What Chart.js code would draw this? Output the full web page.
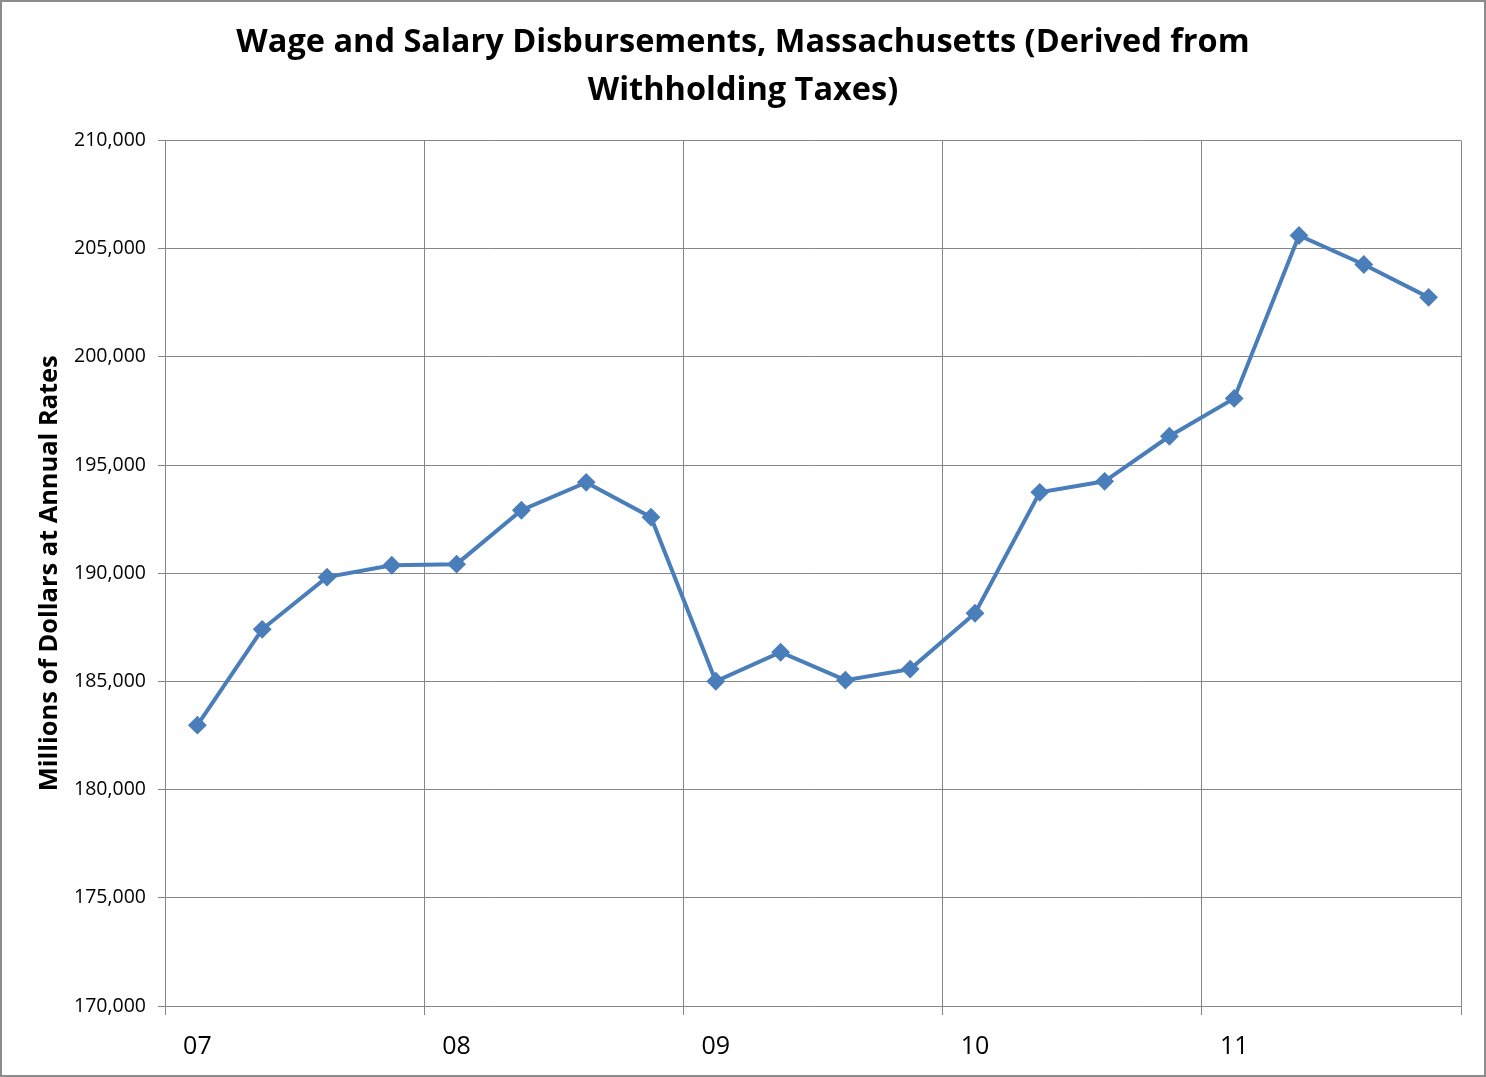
<!DOCTYPE html>
<html>
<head>
<meta charset="utf-8">
<script src="https://cdn.jsdelivr.net/npm/chart.js@4/dist/chart.umd.min.js"></script>
<style>
  html, body { margin: 0; padding: 0; background: #fff; }
  #wrap { position: relative; width: 1486px; height: 1077px; }
  #c { position: absolute; left: 0; top: 0; }
  #frame { position: absolute; left: 0; top: 0; width: 1486px; height: 1077px; box-sizing: border-box; border: 2px solid #8c8c8c; pointer-events: none; }
</style>
</head>
<body>
<div id="wrap">
  <canvas id="c" width="1486" height="1077"></canvas>
  <div id="frame"></div>
</div>
<script>
const titleLines = ['Wage and Salary Disbursements, Massachusetts (Derived from', 'Withholding Taxes)'];
const yAxisTitle = 'Millions of Dollars at Annual Rates';
const quarters = [
  '2007 Q1','2007 Q2','2007 Q3','2007 Q4',
  '2008 Q1','2008 Q2','2008 Q3','2008 Q4',
  '2009 Q1','2009 Q2','2009 Q3','2009 Q4',
  '2010 Q1','2010 Q2','2010 Q3','2010 Q4',
  '2011 Q1','2011 Q2','2011 Q3','2011 Q4'
];
const yearLabels = ['07','08','09','10','11'];
const wages = [
  182980, 187410, 189820, 190370,
  190420, 192910, 194200, 192590,
  185010, 186350, 185060, 185570,
  188150, 193740, 194250, 196330,
  198080, 205610, 204270, 202750
];
const yMin = 170000, yMax = 210000, yStep = 5000;

const FONT = "'Open Sans', 'DejaVu Sans', sans-serif";
const GRID = '#868686';
const LINE = '#4a7ebb';

new Chart(document.getElementById('c'), {
  type: 'line',
  data: {
    labels: quarters,
    datasets: [{
      data: wages,
      borderColor: LINE,
      backgroundColor: LINE,
      borderWidth: 4,
      pointStyle: 'rectRot',
      pointRadius: 8,
      pointBorderWidth: 2,
      pointBorderColor: LINE,
      pointBackgroundColor: LINE,
      tension: 0,
      fill: false
    }]
  },
  options: {
    responsive: false,
    animation: false,
    layout: { padding: { left: 25, right: 25, top: 0, bottom: 0 } },
    plugins: {
      legend: { display: false },
      tooltip: { enabled: false },
      title: {
        display: true,
        text: titleLines,
        color: '#000',
        font: { family: FONT, size: 32.5, weight: 'bold', lineHeight: 1.5 },
        padding: { top: 18, bottom: 25 }
      }
    },
    scales: {
      x: {
        type: 'category',
        offset: true,
        grid: {
          offset: true,
          drawOnChartArea: true,
          tickLength: 9,
          lineWidth: 1,
          color: (ctx) => (ctx.index === undefined || ctx.index % 4 === 0) ? GRID : 'rgba(0,0,0,0)'
        },
        border: { display: true, color: GRID, width: 1 },
        ticks: {
          autoSkip: false,
          maxRotation: 0,
          minRotation: 0,
          padding: 17,
          color: '#000',
          font: { family: FONT, size: 25 },
          callback: function (value, index) {
            return index % 4 === 0 ? yearLabels[index / 4] : '';
          }
        },
        afterFit: (scale) => { scale.height = 1077 - 1006; }
      },
      y: {
        min: yMin,
        max: yMax,
        grid: { color: GRID, lineWidth: 1, tickLength: 7 },
        border: { display: true, color: GRID, width: 1 },
        ticks: {
          stepSize: yStep,
          padding: 12,
          color: '#000',
          font: { family: FONT, size: 19.5 },
          callback: (v) => v.toLocaleString('en-US')
        },
        title: {
          display: true,
          text: yAxisTitle,
          color: '#000',
          font: { family: FONT, size: 25.4, weight: 'bold', lineHeight: 1.2 },
          padding: { top: 10, bottom: 0 }
        },
        afterFit: (scale) => { scale.width = 140; }
      }
    }
  }
});
</script>
</body>
</html>
